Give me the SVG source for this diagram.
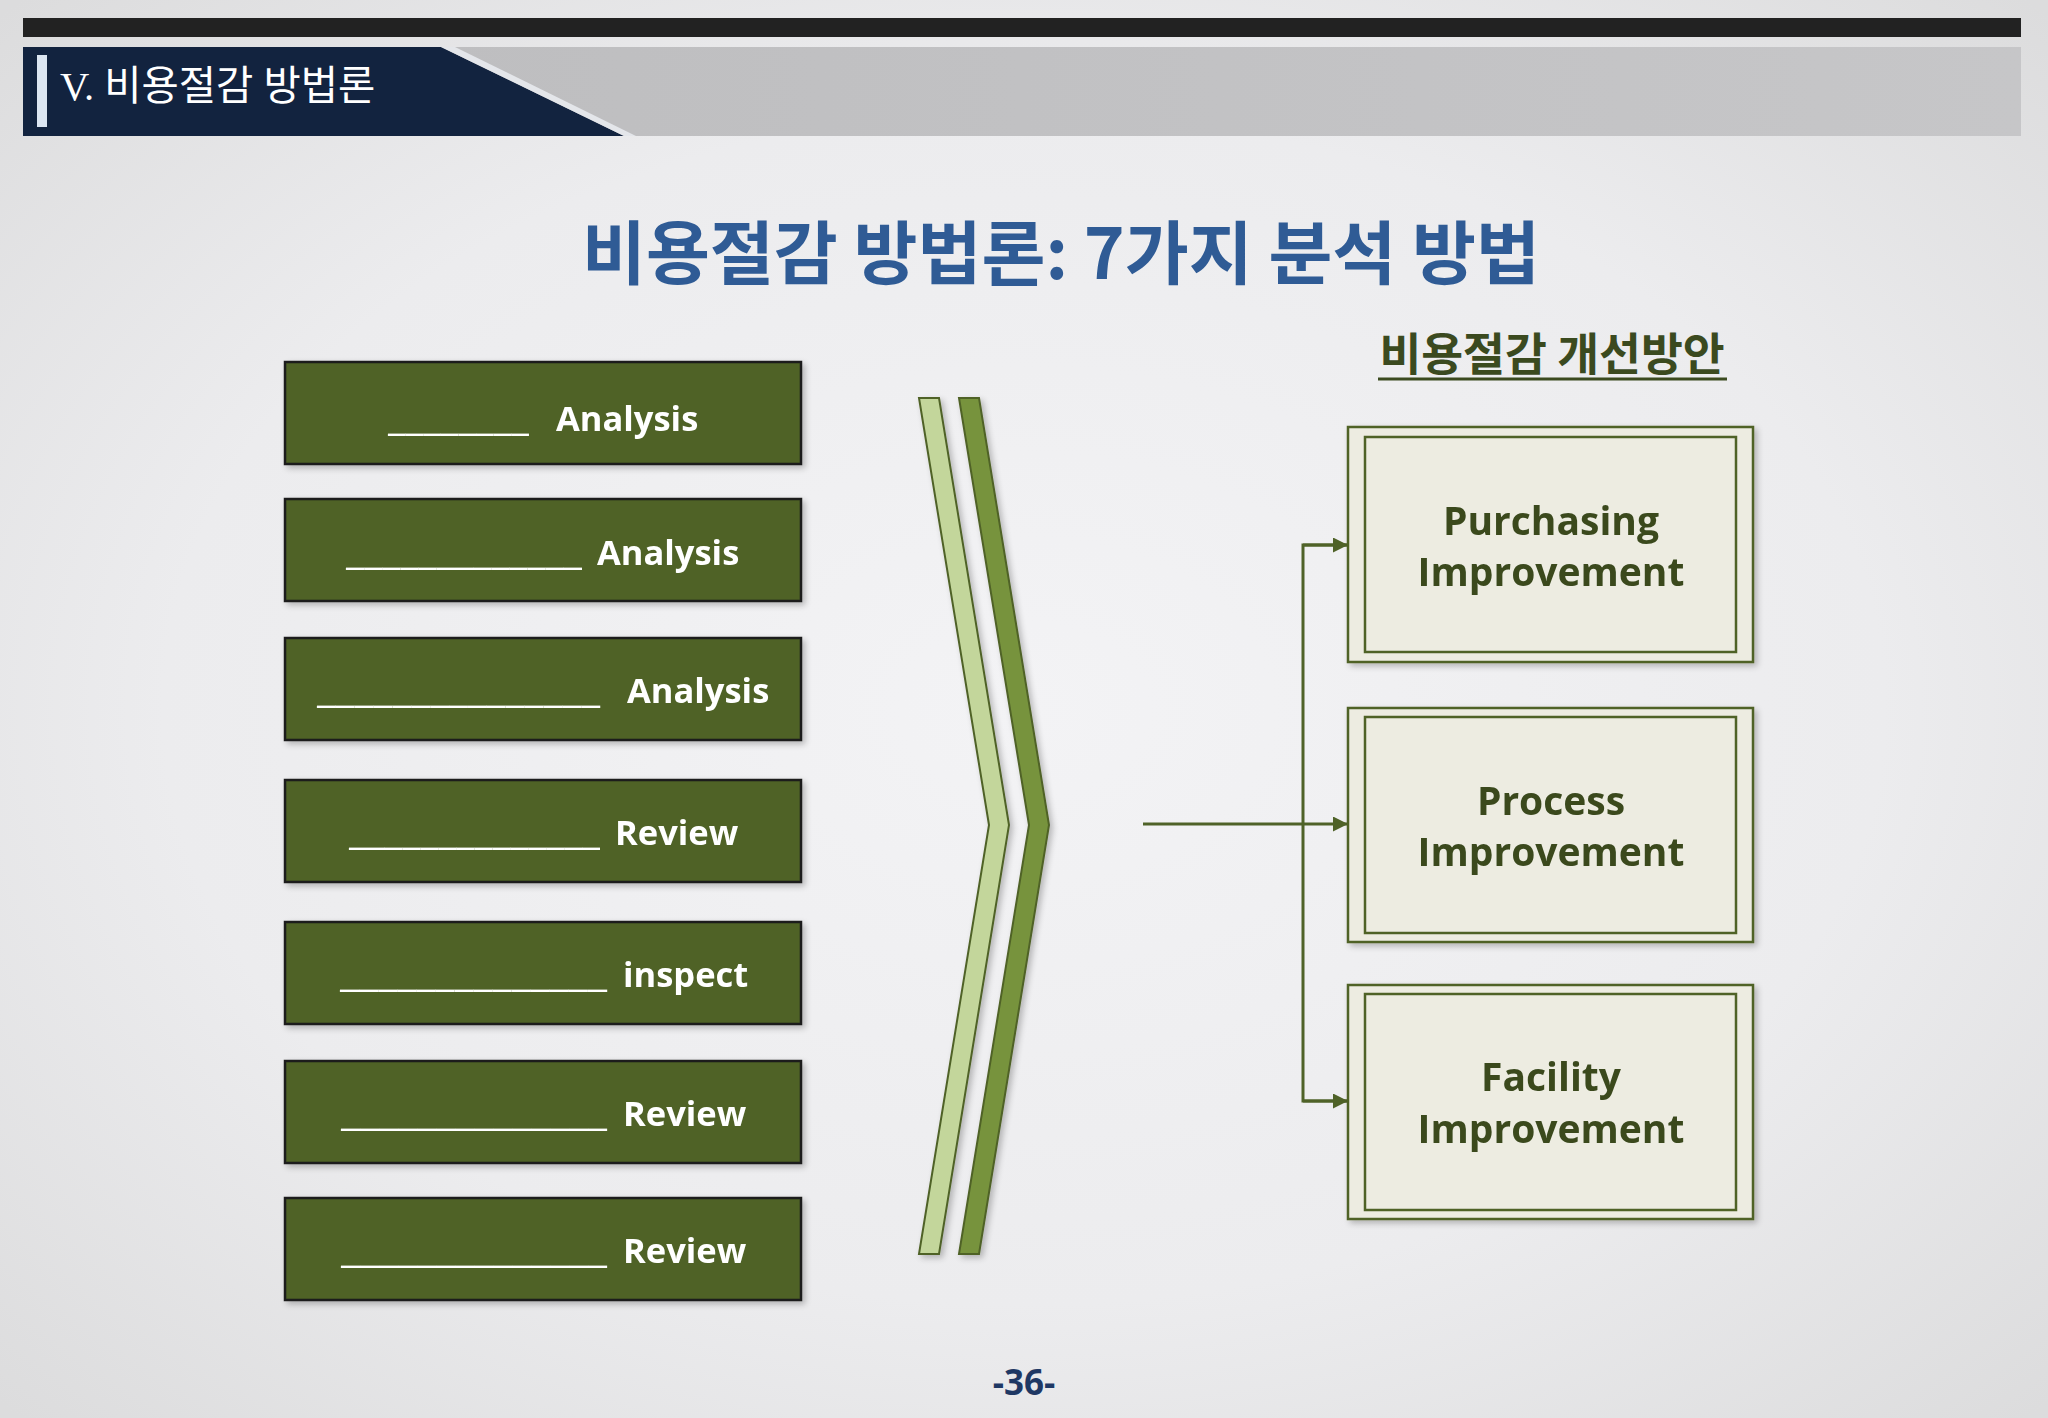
<svg xmlns="http://www.w3.org/2000/svg" width="2048" height="1418" viewBox="0 0 2048 1418">
<defs>
<radialGradient id="bg" cx="50%" cy="50%" r="70%">
<stop offset="0" stop-color="#f3f3f5"/>
<stop offset="0.6" stop-color="#ececee"/>
<stop offset="1" stop-color="#dcdcdd"/>
</radialGradient>
<linearGradient id="band" x1="0" y1="0" x2="1" y2="0">
<stop offset="0" stop-color="#bcbcbe"/>
<stop offset="1" stop-color="#c6c6c8"/>
</linearGradient>
<filter id="sh" x="-10%" y="-10%" width="130%" height="130%">
<feGaussianBlur in="SourceAlpha" stdDeviation="3"/>
<feOffset dx="3" dy="3" result="b"/>
<feComponentTransfer><feFuncA type="linear" slope="0.25"/></feComponentTransfer>
<feMerge><feMergeNode/><feMergeNode in="SourceGraphic"/></feMerge>
</filter>
<marker id="arr" viewBox="0 0 10 10" refX="10" refY="5" markerWidth="5" markerHeight="5" orient="auto" markerUnits="strokeWidth">
<path d="M0,0 L10,5 L0,10 z" fill="#4f6228"/>
</marker>
<style>
.box{fill:#4f6228;stroke:#1a1a1a;stroke-width:2.5}
.btxt{font-family:"Open Sans","Noto Sans",sans-serif;font-weight:bold;font-size:34.5px;fill:#ffffff}
.rbo{fill:#edece1;stroke:#4f6228;stroke-width:2.5}
.rbi{fill:none;stroke:#4f6228;stroke-width:2.5}
.rtxt{font-family:"Open Sans","Noto Sans",sans-serif;font-weight:bold;font-size:39px;fill:#3b4a1f;text-anchor:middle}
.conn{fill:none;stroke:#4f6228;stroke-width:3}
</style>
</defs>
<rect width="2048" height="1418" fill="url(#bg)"/>
<g id="header">
<rect x="23" y="18" width="1998" height="19" fill="#222222"/>
<rect x="23" y="47" width="1998" height="89" fill="url(#band)"/>
<polygon points="23,47 441,47 624,136 23,136" fill="#12233f"/>
<polygon points="441,47 455,47 636,136 624,136" fill="#e4e6ea"/>
<rect x="37" y="55" width="10" height="72" fill="#dce6f2"/>
<text x="60" y="100" font-family="'Liberation Serif','Noto Sans CJK KR',serif" font-size="40.5" fill="#ffffff">V. 비용절감 방법론</text>
</g>
<g id="title">
<text x="1061" y="279" text-anchor="middle" font-family="'Noto Sans CJK KR',sans-serif" font-weight="bold" font-size="69.5" fill="#2f5b95">비용절감 방법론: 7가지 분석 방법</text>
</g>
<g id="subtitle">
<text x="1552" y="371" text-anchor="middle" font-family="'Noto Sans CJK KR',sans-serif" font-weight="bold" font-size="45.5" fill="#3b4a1f">비용절감 개선방안</text>
<line x1="1378" y1="379" x2="1727" y2="379" stroke="#3b4a1f" stroke-width="3"/>
</g>
<g id="box1" filter="url(#sh)"><rect class="box" x="285" y="362" width="516" height="102"/>
<text class="btxt" y="431"><tspan x="388" textLength="141" lengthAdjust="spacingAndGlyphs">________</tspan><tspan x="556">Analysis</tspan></text></g>
<g id="box2" filter="url(#sh)"><rect class="box" x="285" y="499" width="516" height="102"/>
<text class="btxt" y="565"><tspan x="346" textLength="236" lengthAdjust="spacingAndGlyphs">_____________</tspan><tspan x="597">Analysis</tspan></text></g>
<g id="box3" filter="url(#sh)"><rect class="box" x="285" y="638" width="516" height="102"/>
<text class="btxt" y="703"><tspan x="317" textLength="283" lengthAdjust="spacingAndGlyphs">_______________</tspan><tspan x="627">Analysis</tspan></text></g>
<g id="box4" filter="url(#sh)"><rect class="box" x="285" y="780" width="516" height="102"/>
<text class="btxt" y="845"><tspan x="349" textLength="251" lengthAdjust="spacingAndGlyphs">______________</tspan><tspan x="615">Review</tspan></text></g>
<g id="box5" filter="url(#sh)"><rect class="box" x="285" y="922" width="516" height="102"/>
<text class="btxt" y="987"><tspan x="340" textLength="267" lengthAdjust="spacingAndGlyphs">______________</tspan><tspan x="623">inspect</tspan></text></g>
<g id="box6" filter="url(#sh)"><rect class="box" x="285" y="1061" width="516" height="102"/>
<text class="btxt" y="1126"><tspan x="341" textLength="266" lengthAdjust="spacingAndGlyphs">______________</tspan><tspan x="623">Review</tspan></text></g>
<g id="box7" filter="url(#sh)"><rect class="box" x="285" y="1198" width="516" height="102"/>
<text class="btxt" y="1263"><tspan x="341" textLength="266" lengthAdjust="spacingAndGlyphs">______________</tspan><tspan x="623">Review</tspan></text></g>
<g id="chevrons" filter="url(#sh)">
<polygon points="919,398 939,398 1009,825 939,1254 919,1254 989,825" fill="#c3d69b" stroke="#4f6228" stroke-width="2"/>
<polygon points="959,398 979,398 1049,825 979,1254 959,1254 1029,825" fill="#77933c" stroke="#4f6228" stroke-width="2"/>
</g>
<g id="connectors">
<line class="conn" x1="1143" y1="824" x2="1348" y2="824" marker-end="url(#arr)"/>
<polyline class="conn" points="1348,545 1303,545 1303,1101 1348,1101"/>
<line class="conn" x1="1303" y1="545" x2="1348" y2="545" marker-end="url(#arr)"/>
<line class="conn" x1="1303" y1="1101" x2="1348" y2="1101" marker-end="url(#arr)"/>
</g>
<g id="rbox1" filter="url(#sh)"><rect class="rbo" x="1348" y="427" width="405" height="235"/><rect class="rbi" x="1365" y="437" width="371" height="215"/>
<text class="rtxt" x="1551" y="535">Purchasing</text><text class="rtxt" x="1551" y="586">Improvement</text></g>
<g id="rbox2" filter="url(#sh)"><rect class="rbo" x="1348" y="708" width="405" height="234"/><rect class="rbi" x="1365" y="717" width="371" height="216"/>
<text class="rtxt" x="1551" y="815">Process</text><text class="rtxt" x="1551" y="866">Improvement</text></g>
<g id="rbox3" filter="url(#sh)"><rect class="rbo" x="1348" y="985" width="405" height="234"/><rect class="rbi" x="1365" y="994" width="371" height="216"/>
<text class="rtxt" x="1551" y="1091">Facility</text><text class="rtxt" x="1551" y="1143">Improvement</text></g>
<g id="page"><text x="1024" y="1395" text-anchor="middle" font-family="'Open Sans','Noto Sans',sans-serif" font-weight="bold" font-size="35" fill="#1f3864">-36-</text></g>
</svg>
